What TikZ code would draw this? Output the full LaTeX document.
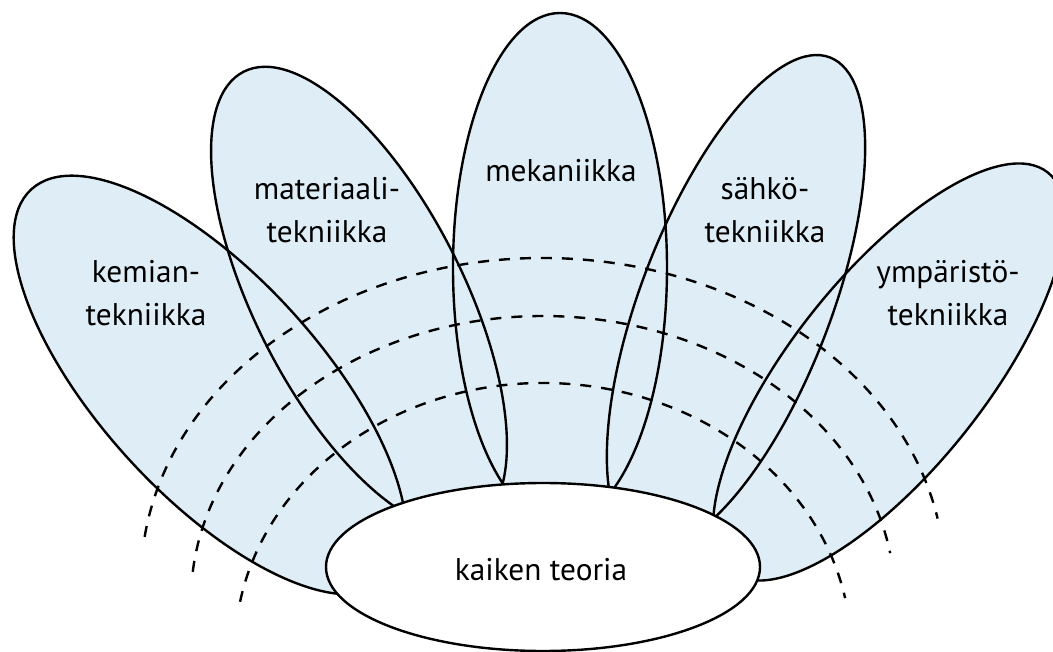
\documentclass[tikz,border=0pt]{standalone}
\usepackage{fontspec}
\setmainfont{PT Sans}
\definecolor{petalblue}{RGB}{223,238,246}
\begin{document}
\begin{tikzpicture}[x=0.75pt,y=-0.75pt,
  petalfill/.style={fill=petalblue},
  outline/.style={draw=black,line width=1.8pt},
  guide/.style={draw=black,line width=1.8pt,dash pattern=on 8.25pt off 7.5pt},
  lbl/.style={font=\fontsize{23.5}{31.9}\selectfont,align=center,inner sep=0pt}]
\useasboundingbox (0,0) rectangle (1053,652);
\clip (0,0) rectangle (1053,652);
% petal fills
\foreach \cx/\cy/\ang/\a/\b in {210/385/42.4/265/110, 359/298/27/254/104, 560/268/0/255/107, 736/302/-21/262/95, 889/372/-38.5/255/97}{
  \path[petalfill,rotate around={\ang:(\cx,\cy)}] (\cx,\cy) ellipse [x radius=\b, y radius=\a];
}
% dashed arcs
\draw[guide] (543,580) ++(187.7:402 and 322) arc[start angle=187.7, end angle=349, x radius=402, y radius=322];
\draw[guide] (543,600) ++(185.7:352 and 284) arc[start angle=185.7, end angle=350.5, x radius=352, y radius=284];
\draw[guide] (543,650) ++(190.4:308 and 267) arc[start angle=190.4, end angle=348.8, x radius=308, y radius=267];
% petal outlines
\foreach \cx/\cy/\ang/\a/\b in {210/385/42.4/265/110, 359/298/27/254/104, 560/268/0/255/107, 736/302/-21/262/95, 889/372/-38.5/255/97}{
  \path[outline,rotate around={\ang:(\cx,\cy)}] (\cx,\cy) ellipse [x radius=\b, y radius=\a];
}
% centre
\path[outline,fill=white] (543,567) ellipse [x radius=217, y radius=84];
\node[lbl] (kaiken) at (541,569.5) {kaiken teoria};
\node[lbl] (kemian) at (146,293) {kemian-\\tekniikka};
\node[lbl] (materiaali) at (327,210) {materiaali-\\tekniikka};
\node[lbl] (mekaniikka) at (561,171) {mekaniikka};
\node[lbl] (sahko) at (765,210) {sähkö-\\tekniikka};
\node[lbl] (ymparisto) at (948,293) {ympäristö-\\tekniikka};
\end{tikzpicture}
\end{document}
